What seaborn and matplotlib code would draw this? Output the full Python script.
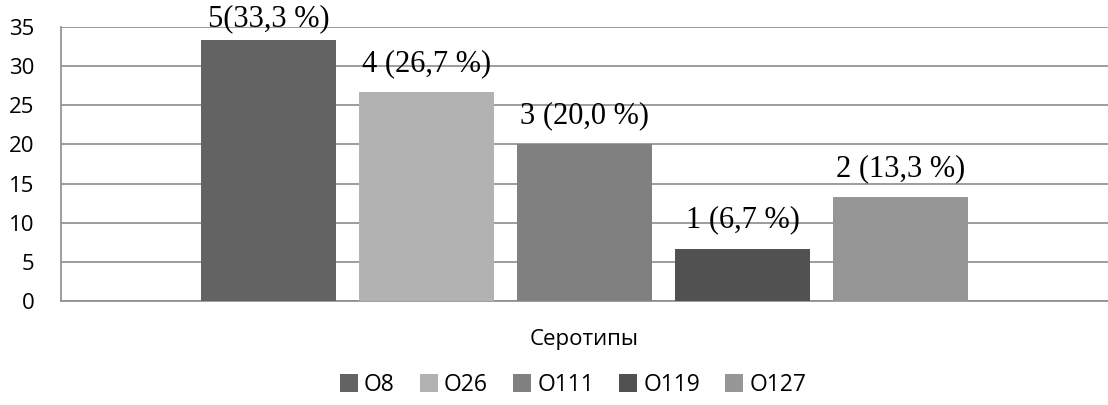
import seaborn as sns
import matplotlib.pyplot as plt
import pandas as pd

# data
serotypes = ['O8', 'O26', 'O111', 'O119', 'O127']
percent = [33.3, 26.7, 20.0, 6.7, 13.3]
labels = ['5(33,3 %)', '4 (26,7 %)', '3 (20,0 %)', '1 (6,7 %)', '2 (13,3 %)']
colors = ['#636363', '#b2b2b2', '#808080', '#515151', '#969696']

df = pd.DataFrame({'group': [''] * len(serotypes), 'serotype': serotypes, 'value': percent})

sns.set_style("white")
plt.rcParams['font.family'] = ['Open Sans', 'DejaVu Sans']
plt.rcParams['text.color'] = 'black'
plt.rcParams['axes.labelcolor'] = 'black'
plt.rcParams['ytick.color'] = 'black'

fig = plt.figure(figsize=(11.08, 4.05), dpi=100)
ax = fig.add_axes([0.055, 0.257, 0.945, 0.676])

sns.barplot(data=df, x='group', y='value', hue='serotype', hue_order=serotypes,
            palette=colors, width=0.8, gap=0.146, saturation=1, linewidth=0,
            ax=ax, zorder=3)

# value labels above bars (the top one sits squeezed under the frame top)
for bar, txt in zip(ax.patches, labels):
    ypos = min(bar.get_height() + 1.8, 34.2)
    ax.text(bar.get_x() + bar.get_width() / 2, ypos, txt,
            ha='center', va='bottom', fontsize=22, family='Liberation Serif', zorder=4)

ax.set_ylim(0, 35)
ax.set_xlim(-0.53, 0.53)
ax.set_yticks(range(0, 36, 5))
ax.yaxis.grid(True, color='#8c8c8c', linewidth=1.2, zorder=0)
ax.set_axisbelow(True)
ax.tick_params(axis='y', labelsize=16, length=0, pad=19)
ax.tick_params(axis='x', length=0)
ax.set_xticklabels([])
ax.set_ylabel('')
ax.set_xlabel('Серотипы', fontsize=16, labelpad=17)

for side in ['top', 'right']:
    ax.spines[side].set_visible(False)
for side in ['left', 'bottom']:
    ax.spines[side].set_color('#8c8c8c')
    ax.spines[side].set_linewidth(1.2)

ax.legend(loc='center', bbox_to_anchor=(0.489, -0.307), ncol=5, frameon=False,
          fontsize=16.5, handlelength=0.8, handleheight=0.8, handletextpad=0.25,
          columnspacing=1.1)

plt.savefig('out.png', dpi=100)
plt.close()
